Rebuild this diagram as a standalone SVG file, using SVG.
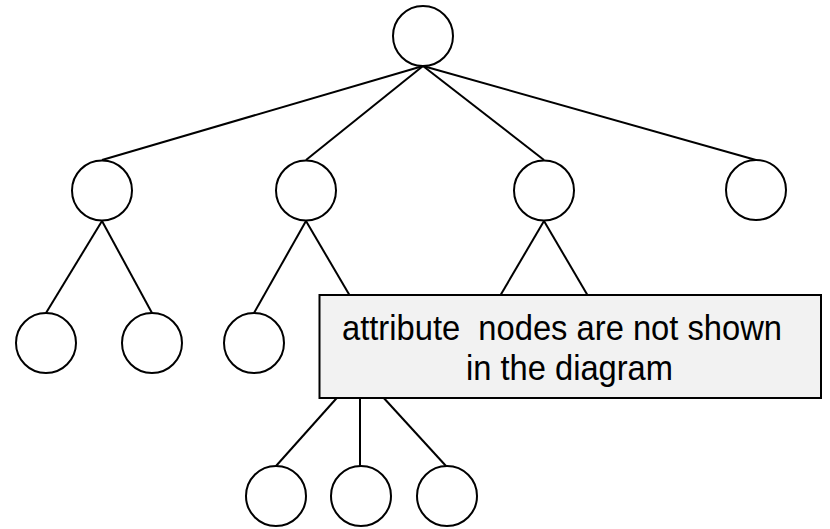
<svg xmlns="http://www.w3.org/2000/svg" width="830" height="529" viewBox="0 0 830 529">
<style>
.n{fill:#fff;stroke:#000;stroke-width:2}
.e{stroke:#000;stroke-width:2;fill:none}
.t{font-family:"Liberation Sans",Arial,sans-serif;font-size:35px;fill:#000}
</style>
<rect width="830" height="529" fill="#fff"/>
<g id="edges">
<line class="e" x1="423" y1="66" x2="102" y2="160"/>
<line class="e" x1="423" y1="66" x2="306" y2="160"/>
<line class="e" x1="423" y1="66" x2="544" y2="160"/>
<line class="e" x1="423" y1="66" x2="756" y2="160"/>
<line class="e" x1="102" y1="221" x2="46" y2="313"/>
<line class="e" x1="102" y1="221" x2="152" y2="313"/>
<line class="e" x1="306" y1="221" x2="254" y2="313"/>
<line class="e" x1="306" y1="221" x2="360" y2="313"/>
<line class="e" x1="544" y1="221" x2="490" y2="313"/>
<line class="e" x1="544" y1="221" x2="598" y2="313"/>
<line class="e" x1="360" y1="372" x2="276" y2="466"/>
<line class="e" x1="360" y1="372" x2="360" y2="466"/>
<line class="e" x1="360" y1="372" x2="446" y2="466"/>
</g>
<g id="root"><circle class="n" cx="423" cy="36" r="30"/></g>
<g id="n1"><circle class="n" cx="102" cy="190.5" r="30"/></g>
<g id="n2"><circle class="n" cx="306" cy="190.5" r="30"/></g>
<g id="n3"><circle class="n" cx="544" cy="190.5" r="30"/></g>
<g id="n4"><circle class="n" cx="756" cy="190" r="30"/></g>
<g id="n11"><circle class="n" cx="46" cy="343" r="30"/></g>
<g id="n12"><circle class="n" cx="152" cy="343" r="30"/></g>
<g id="n21"><circle class="n" cx="254" cy="343" r="30"/></g>
<g id="n221"><circle class="n" cx="276" cy="496" r="30"/></g>
<g id="n222"><circle class="n" cx="361" cy="496" r="30"/></g>
<g id="n223"><circle class="n" cx="447" cy="496" r="30"/></g>
<g id="note">
<rect x="319.5" y="295" width="501.5" height="103" fill="#f2f2f2" stroke="#000" stroke-width="2"/>
<text class="t" x="342" y="340" textLength="440" lengthAdjust="spacingAndGlyphs" xml:space="preserve">attribute  nodes are not shown</text>
<text class="t" x="466" y="380" textLength="207" lengthAdjust="spacingAndGlyphs">in the diagram</text>
</g>
</svg>
